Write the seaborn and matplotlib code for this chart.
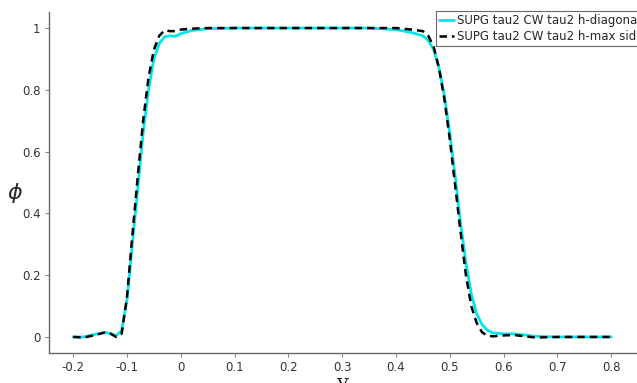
import matplotlib
matplotlib.use("Agg")
import matplotlib.pyplot as plt
import seaborn as sns
import pandas as pd

x_vals = [-0.2, -0.18, -0.16, -0.14, -0.13, -0.12, -0.11, -0.1, -0.09, -0.08, -0.07, -0.06,
          -0.05, -0.04, -0.03, -0.02, -0.01, 0.0, 0.02, 0.05, 0.1, 0.2, 0.3, 0.35, 0.4, 0.43,
          0.45, 0.46, 0.47, 0.48, 0.49, 0.5, 0.51, 0.52, 0.53, 0.54, 0.55, 0.56, 0.57, 0.58,
          0.6, 0.62, 0.64, 0.66, 0.7, 0.8]
phi_diag = [0.0, 0.0, 0.008, 0.015, 0.01, 0.004, 0.02, 0.12, 0.3, 0.48, 0.66, 0.8,
            0.9, 0.95, 0.972, 0.975, 0.973, 0.982, 0.992, 0.998, 1.0, 1.0, 1.0, 1.0, 0.995, 0.985,
            0.975, 0.96, 0.93, 0.87, 0.78, 0.66, 0.52, 0.37, 0.24, 0.14, 0.075, 0.04, 0.022, 0.013,
            0.01, 0.01, 0.006, 0.002, 0.0, 0.0]
phi_maxside = [0.0, -0.002, 0.006, 0.015, 0.01, 0.0, 0.01, 0.13, 0.33, 0.52, 0.7, 0.84,
               0.93, 0.975, 0.993, 0.99, 0.99, 0.995, 0.998, 1.0, 1.0, 1.0, 1.0, 1.0, 1.0, 0.995,
               0.99, 0.975, 0.94, 0.87, 0.77, 0.64, 0.49, 0.34, 0.2, 0.1, 0.045, 0.015, 0.004, 0.002,
               0.005, 0.006, 0.002, -0.002, 0.0, 0.0]
labels = ["SUPG tau2 CW tau2 h-diagonal", "SUPG tau2 CW tau2 h-max side"]
x_ticks = [-0.2, -0.1, 0, 0.1, 0.2, 0.3, 0.4, 0.5, 0.6, 0.7, 0.8]
x_tick_labels = ["-0.2", "-0.1", "0", "0.1", "0.2", "0.3", "0.4", "0.5", "0.6", "0.7", "0.8"]
y_ticks = [0, 0.2, 0.4, 0.6, 0.8, 1]
y_tick_labels = ["0", "0.2", "0.4", "0.6", "0.8", "1"]

sns.set_style("white")
plt.rcParams['font.family'] = ['DejaVu Sans']

df = pd.DataFrame({
    "y": x_vals * 2,
    "phi": phi_diag + phi_maxside,
    "series": [labels[0]] * len(x_vals) + [labels[1]] * len(x_vals),
})

fig = plt.figure(figsize=(6.37, 3.83), dpi=100)
ax = fig.add_axes([49 / 637, 30 / 383, 1 - 49 / 637, 341 / 383])

sns.lineplot(data=df[df.series == labels[0]], x="y", y="phi", ax=ax, color="#00e5ee",
             linewidth=2.0, label=labels[0], legend=False)
sns.lineplot(data=df[df.series == labels[1]], x="y", y="phi", ax=ax, color="black",
             linewidth=1.8, linestyle=(0, (3, 2)), label=labels[1], legend=False)

ax.set_xlim(-0.245, 0.848)
ax.set_ylim(-0.052, 1.052)
ax.set_xticks(x_ticks)
ax.set_xticklabels(x_tick_labels)
ax.set_yticks(y_ticks)
ax.set_yticklabels(y_tick_labels)
for s in ["top", "right"]:
    ax.spines[s].set_visible(False)
for s in ["left", "bottom"]:
    ax.spines[s].set_color("#666666")
    ax.spines[s].set_linewidth(1.0)
ax.tick_params(axis="both", which="both", direction="out", length=3, width=0.8,
               color="#888888", labelsize=8.5, labelcolor="#333333", pad=3,
               left=True, bottom=True)

ax.set_xlabel("y", family="DejaVu Serif", fontsize=15, labelpad=0)
ax.set_ylabel(r"$\phi$", fontsize=16, rotation=0, va="center", ha="center")
ax.yaxis.set_label_coords(-0.058, 0.47)

leg = ax.legend(loc="upper left", bbox_to_anchor=(436 / 637, 1 - 11 / 383),
                bbox_transform=fig.transFigure, frameon=True, fancybox=False,
                fontsize=8.5, handlelength=1.3, handletextpad=0.2, borderpad=0.25,
                labelspacing=0.25, borderaxespad=0)
leg.get_frame().set_edgecolor("#444444")
leg.get_frame().set_linewidth(0.8)

fig.savefig("out.png", dpi=100)
